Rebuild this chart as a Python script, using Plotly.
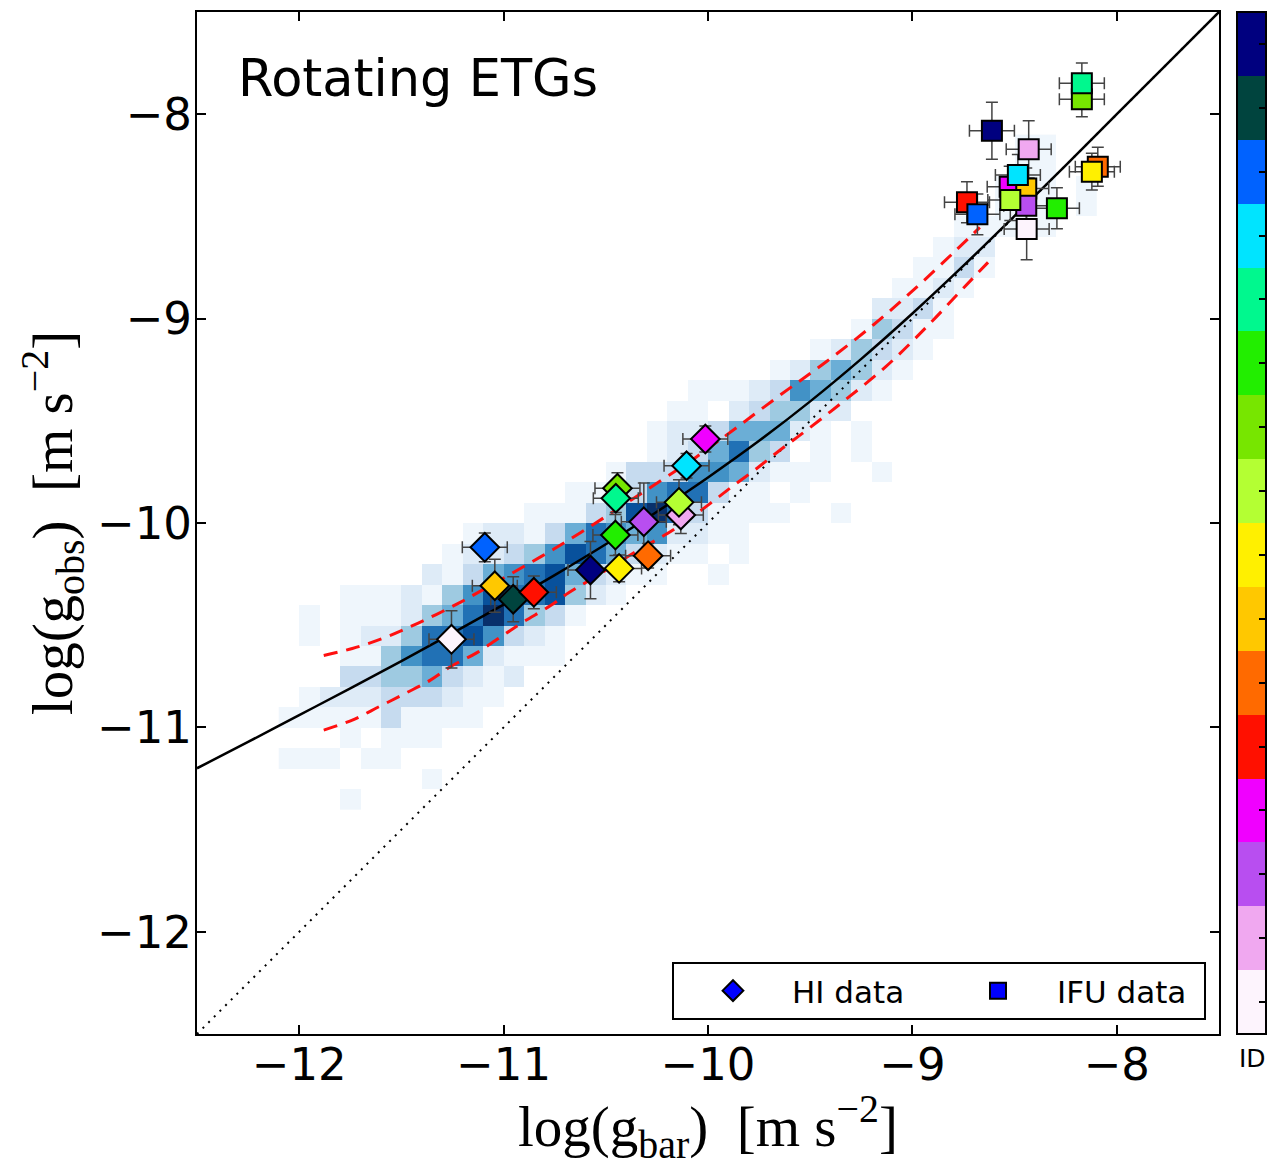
import plotly.graph_objects as go

# ---------------- data ----------------
# 2D histogram of the comparison sample (Blues intensity level 0-9)
# columns: left edges from -12.1 in steps of 0.1 (40 columns)
# rows: top edges from -8.1 downwards in steps of 0.1
hist_x_left0 = -12.1
hist_y_top0 = -8.1
hist_step = 0.1
hist_rows = [
    "0000000000" "0000000000" "0000000000" "0000001100",  # -8.1
    "0000000000" "0000000000" "0000000000" "0000001100",  # -8.2
    "0000000000" "0000000000" "0000000000" "0000011101",  # -8.3
    "0000000000" "0000000000" "0000000000" "0000011101",  # -8.4
    "0000000000" "0000000000" "0000000000" "0001111100",  # -8.5
    "0000000000" "0000000000" "0000000000" "0012200000",  # -8.6
    "0000000000" "0000000000" "0000000000" "0113100000",  # -8.7
    "0000000000" "0000000000" "0000000000" "1121000000",  # -8.8
    "0000000000" "0000000000" "0000000002" "2310000000",  # -8.9
    "0000000000" "0000000000" "0000000014" "3110000000",  # -9.0
    "0000000000" "0000000000" "0000001243" "2100000000",  # -9.1
    "0000000000" "0000000000" "0000124542" "1000000000",  # -9.2
    "0000000000" "0000000000" "1112365421" "0000000000",  # -9.3
    "0000000000" "0000000001" "1023442200" "0000000000",  # -9.4
    "0000000000" "0000000012" "2355521010" "0000000000",  # -9.5
    "0000000000" "0000000012" "3574301010" "0000000000",  # -9.6
    "0000000000" "0000001333" "6652111001" "0000000000",  # -9.7
    "0000000000" "0000112367" "7311010000" "0000000000",  # -9.8
    "0000000000" "0011134897" "3111100100" "0000000000",  # -9.9
    "0000000001" "2213576562" "2110000000" "0000000000",  # -10.0
    "0000000012" "2346875321" "1010000000" "0000000000",  # -10.1
    "0000000213" "5678532110" "0100000000" "0000000000",  # -10.2
    "0001112146" "8778421000" "0000000000" "0000000000",  # -10.3
    "0101112457" "9743100000" "0000000000" "0000000000",  # -10.4
    "0101224778" "6321000000" "0000000000" "0000000000",  # -10.5
    "0001146775" "2111000000" "0000000000" "0000000000",  # -10.6
    "0003344532" "1200000000" "0000000000" "0000000000",  # -10.7
    "0122233321" "1000000000" "0000000000" "0000000000",  # -10.8
    "1111131111" "0000000000" "0000000000" "0000000000",  # -10.9
    "0001011100" "0000000000" "0000000000" "0000000000",  # -11.0
    "1110110000" "0000000000" "0000000000" "0000000000",  # -11.1
    "0000000100" "0000000000" "0000000000" "0000000000",  # -11.2
    "0001000000" "0000000000" "0000000000" "0000000000",  # -11.3
]

# radial acceleration relation (solid black line)
rar_x = [-12.5, -12.25, -12.0, -11.75, -11.5, -11.25, -11.0, -10.75, -10.5, -10.25,
         -10.0, -9.75, -9.5, -9.25, -9.0, -8.75, -8.5, -8.25, -8.0, -7.75, -7.5]
rar_y = [-11.20, -11.071, -10.94, -10.809, -10.676, -10.539, -10.399, -10.255, -10.104, -9.945,
         -9.777, -9.598, -9.405, -9.197, -8.975, -8.741, -8.497, -8.250, -8.000, -7.750, -7.5]

# one-to-one line (dotted)
one_x = [-12.5, -7.5]
one_y = [-12.5, -7.5]

# scatter envelopes (red dashed)
up_x = [-11.88, -11.74, -11.59, -11.46, -11.33, -11.21, -11.10, -10.97, -10.75, -10.52,
        -10.30, -10.06, -9.86, -9.64, -9.42, -9.19, -8.99, -8.79, -8.67]
up_y = [-10.648, -10.614, -10.564, -10.509, -10.448, -10.387, -10.326, -10.252, -10.125, -9.981,
        -9.838, -9.679, -9.533, -9.369, -9.210, -9.030, -8.856, -8.669, -8.554]
lo_x = [-11.88, -11.74, -11.61, -11.48, -11.36, -11.26, -11.13, -11.00, -10.91, -10.77,
        -10.68, -10.58, -10.45, -10.33, -10.22, -10.12, -9.99, -9.89, -9.76, -9.65,
        -9.54, -9.34, -9.13, -8.93, -8.75, -8.63]
lo_y = [-11.013, -10.964, -10.899, -10.833, -10.770, -10.703, -10.634, -10.548, -10.488, -10.404,
        -10.340, -10.280, -10.200, -10.126, -10.064, -10.000, -9.905, -9.828, -9.732, -9.645,
        -9.563, -9.407, -9.235, -9.040, -8.850, -8.725]

# galaxy ID colours (ID 1 .. 16)
id_colors = ["#fdf4fd", "#f0a8f0", "#b84ef0", "#f000ff", "#ff1000", "#ff6a00", "#ffc800", "#fff000",
             "#b4ff33", "#77e600", "#22ee00", "#00f88e", "#00e4ff", "#0062ff", "#00443e", "#00007f"]

# HI data (diamonds)
hi_id = [1, 7, 15, 5, 14, 16, 8, 6, 11, 3, 2, 9, 10, 12, 13, 4]
hi_x = [-11.255, -11.043, -10.953, -10.852, -11.092, -10.575, -10.435, -10.293, -10.453, -10.314,
        -10.133, -10.142, -10.443, -10.451, -10.105, -10.013]
hi_y = [-10.569, -10.307, -10.373, -10.339, -10.119, -10.230, -10.222, -10.160, -10.059, -9.994,
        -9.961, -9.899, -9.830, -9.879, -9.720, -9.589]
hi_xerr = [0.11] * 16
hi_yerr = [0.14, 0.13, 0.11, 0.08, 0.07, 0.14, 0.065, 0.06, 0.10, 0.19,
           0.09, 0.11, 0.076, 0.07, 0.06, 0.064]

# IFU data (squares)
ifu_id = [10, 12, 16, 2, 6, 8, 5, 14, 4, 7, 3, 9, 13, 11, 1]
ifu_x = [-8.171, -8.171, -8.611, -8.431, -8.093, -8.122, -8.733, -8.682, -8.524, -8.443,
         -8.443, -8.521, -8.484, -8.293, -8.441]
ifu_y = [-7.927, -7.849, -8.081, -8.172, -8.257, -8.281, -8.431, -8.490, -8.355, -8.363,
         -8.448, -8.420, -8.297, -8.460, -8.562]
ifu_xerr = [0.11] * 15
ifu_yerr = [0.085, 0.10, 0.14, 0.14, 0.095, 0.09, 0.10, 0.10, 0.10, 0.10,
            0.10, 0.10, 0.10, 0.10, 0.15]

ticks = [-12, -11, -10, -9, -8]

# ---------------- build ----------------
ncol = len(hist_rows[0])
hx = [round(hist_x_left0 + hist_step * (c + 0.5), 3) for c in range(ncol)]
hy = [round(hist_y_top0 - hist_step * (r + 0.5), 3) for r in range(len(hist_rows))]
hz = [[(int(ch) if ch != "0" else None) for ch in row] for row in hist_rows]

blues = ["#eff6fc", "#deebf7", "#c6dbef", "#9ecae1", "#6baed6", "#4292c6", "#2171b5", "#08519c", "#08306b"]
blues_scale = [[i / 8, c] for i, c in enumerate(blues)]

nid = len(id_colors)
id_scale = []
for i, c in enumerate(id_colors):
    id_scale.append([i / nid, c])
    id_scale.append([(i + 1) / nid, c])

# plot-area geometry in pixels (for paper placement)
PL, PR, PT, PB = 197, 1219, 12, 1034
PW, PH = PR - PL, PB - PT

fig = go.Figure()

fig.add_trace(go.Heatmap(x=hx, y=hy, z=hz, colorscale=blues_scale, zmin=1, zmax=9,
                         showscale=False, hoverinfo="skip"))

fig.add_trace(go.Scatter(x=one_x, y=one_y, mode="lines", showlegend=False,
                         line=dict(color="black", width=2, dash="2px,6px")))
fig.add_trace(go.Scatter(x=rar_x, y=rar_y, mode="lines", showlegend=False, line_shape="spline",
                         line=dict(color="black", width=2.5)))
fig.add_trace(go.Scatter(x=up_x, y=up_y, mode="lines", showlegend=False, line_shape="spline",
                         line=dict(color="#ff1010", width=3, dash="14px,9px")))
fig.add_trace(go.Scatter(x=lo_x, y=lo_y, mode="lines", showlegend=False, line_shape="spline",
                         line=dict(color="#ff1010", width=3, dash="14px,9px")))

err_style = dict(type="data", color="#444444", thickness=1.5, width=6)

fig.add_trace(go.Scatter(
    x=hi_x, y=hi_y, mode="markers", showlegend=False,
    error_x=dict(array=hi_xerr, **err_style), error_y=dict(array=hi_yerr, **err_style),
    marker=dict(symbol="diamond", size=22, color=hi_id, colorscale=id_scale, cmin=0.5, cmax=nid + 0.5,
                line=dict(color="black", width=2),
                showscale=True,
                colorbar=dict(thickness=29, thicknessmode="pixels", len=1, lenmode="fraction",
                              x=(1237 - PL) / PW, xanchor="left", y=0.5, yanchor="middle",
                              xpad=0, ypad=0, outlinewidth=2, outlinecolor="black",
                              tickvals=list(range(1, nid + 1)), ticks="inside", ticklen=8,
                              tickcolor="black", tickwidth=1.5, showticklabels=False))))

fig.add_trace(go.Scatter(
    x=ifu_x, y=ifu_y, mode="markers", showlegend=False,
    error_x=dict(array=ifu_xerr, **err_style), error_y=dict(array=ifu_yerr, **err_style),
    marker=dict(symbol="square", size=20, color=ifu_id, colorscale=id_scale, cmin=0.5, cmax=nid + 0.5,
                line=dict(color="black", width=2), showscale=False)))

# legend entries
fig.add_trace(go.Scatter(x=[None], y=[None], mode="markers", name="HI data",
                         marker=dict(symbol="diamond", size=20, color="#0000ff",
                                     line=dict(color="black", width=2))))
fig.add_trace(go.Scatter(x=[None], y=[None], mode="markers", name="IFU data",
                         marker=dict(symbol="square", size=18, color="#0000ff",
                                     line=dict(color="black", width=2))))

axis_common = dict(range=[-12.5, -7.5], tickvals=ticks, ticks="inside", ticklen=9, tickwidth=1.5,
                   tickcolor="black", mirror="ticks", showline=True, linewidth=2, linecolor="black",
                   showgrid=False, zeroline=False,
                   tickfont=dict(size=45, family="DejaVu Sans", color="black"))

fig.update_layout(
    width=1267, height=1167,
    margin=dict(l=PL, r=1267 - PR, t=PT, b=1167 - PB, autoexpand=False),
    paper_bgcolor="white", plot_bgcolor="white",
    font=dict(family="DejaVu Sans", color="black"),
    xaxis=dict(**axis_common, ticklabelstandoff=-10,
               title=dict(text="log(g<sub>bar</sub>)  [m s<sup>−2</sup>]",
                          font=dict(size=57, family="Liberation Serif"), standoff=14)),
    yaxis=dict(**axis_common, ticklabelstandoff=-6,
               title=dict(text="log(g<sub>obs</sub>)  [m s<sup>−2</sup>]",
                          font=dict(size=57, family="Liberation Serif"), standoff=6)),
    legend=dict(orientation="h", x=(672 - PL) / PW, y=(PB - 962) / PH,
                xanchor="left", yanchor="top", bordercolor="black", borderwidth=2,
                bgcolor="white", font=dict(size=31, family="DejaVu Sans"),
                itemwidth=108, entrywidth=142, entrywidthmode="pixels"),
    annotations=[
        dict(text="Rotating ETGs", x=(236 - PL) / PW, y=(PB - 78) / PH,
             xref="paper", yref="paper", xanchor="left", yanchor="middle",
             showarrow=False, font=dict(size=51, family="DejaVu Sans", color="black")),
        dict(text="ID", x=(1252 - PL) / PW, y=(PB - 1058) / PH,
             xref="paper", yref="paper", xanchor="center", yanchor="middle",
             showarrow=False, font=dict(size=25, family="DejaVu Sans", color="black")),
    ],
)

fig.write_html("out.html")
